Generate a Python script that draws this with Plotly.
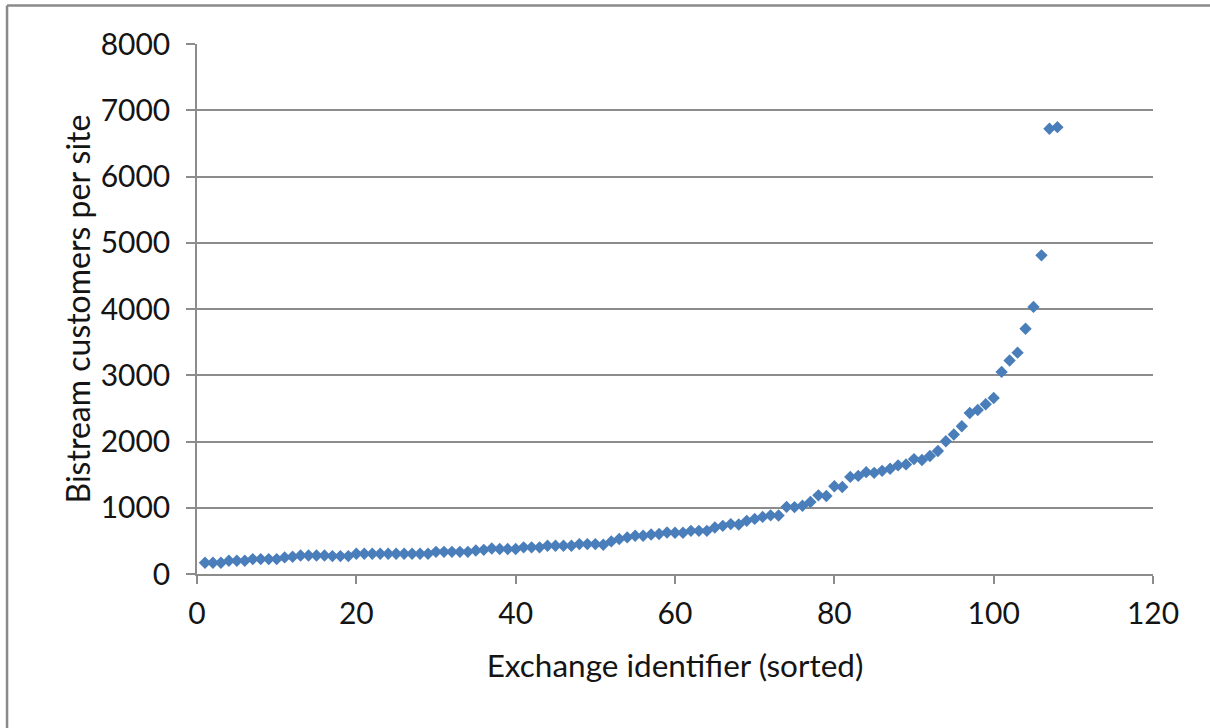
import plotly.graph_objects as go

exchange_id = list(range(1, 109))
customers_per_site = [
    170, 170, 170, 200, 200, 200, 225, 225, 225, 225,
    250, 260, 280, 280, 280, 280, 270, 270, 270, 305,
    305, 305, 305, 305, 305, 305, 305, 305, 305, 335,
    335, 335, 335, 335, 355, 365, 385, 377, 377, 377,
    402, 402, 402, 427, 427, 427, 427, 452, 452, 452,
    442, 492, 528, 552, 577, 577, 597, 603, 627, 622,
    622, 652, 652, 652, 702, 727, 753, 748, 802, 832,
    862, 885, 883, 1013, 1010, 1030, 1086, 1187, 1177, 1324,
    1314, 1466, 1481, 1537, 1527, 1557, 1588, 1639, 1654, 1735,
    1720, 1781, 1857, 2004, 2105, 2230, 2430, 2475, 2563, 2656,
    3050, 3222, 3341, 3702, 4032, 4810, 6720, 6745,
]

x_ticks = [0, 20, 40, 60, 80, 100, 120]
y_ticks = [0, 1000, 2000, 3000, 4000, 5000, 6000, 7000, 8000]

x_title = "Exchange identifier (sorted)"
y_title = "Bistream customers per site"

axis_grey = "#8c8c8c"
text_col = "#141414"
font_family = "Lato, 'Open Sans', sans-serif"

fig = go.Figure()
fig.add_trace(go.Scatter(
    x=exchange_id, y=customers_per_site, mode="markers",
    marker=dict(symbol="diamond", size=9.5, color="#4a7ebb",
                line=dict(width=0)),
    showlegend=False, cliponaxis=False,
))

fig.update_layout(
    width=1210, height=728,
    margin=dict(l=197, r=57, t=44, b=154),
    paper_bgcolor="white", plot_bgcolor="white",
    font=dict(family=font_family, color=text_col, size=30),
    xaxis=dict(
        range=[0, 120], tickvals=x_ticks, ticktext=[str(v) for v in x_ticks],
        showgrid=False, zeroline=False,
        showline=True, linecolor=axis_grey, linewidth=1.5,
        ticks="outside", ticklen=8, tickcolor=axis_grey, tickwidth=1.5,
        ticklabelstandoff=4,
        tickfont=dict(size=30, family=font_family, color=text_col),
        title=dict(text=x_title, font=dict(size=31.5, family=font_family, color=text_col), standoff=26),
    ),
    yaxis=dict(
        range=[0, 8000], tickvals=y_ticks, ticktext=[str(v) for v in y_ticks],
        showgrid=True, gridcolor=axis_grey, gridwidth=1.5, zeroline=False,
        showline=True, linecolor=axis_grey, linewidth=1.5,
        ticks="outside", ticklen=9, tickcolor=axis_grey, tickwidth=1.5,
        ticklabelstandoff=10,
        tickfont=dict(size=30, family=font_family, color=text_col),
        title=dict(text=y_title, font=dict(size=32, family=font_family, color=text_col), standoff=0),
    ),
    shapes=[
        dict(type="line", xref="paper", yref="paper",
             x0=-0.1987, x1=1.07, y0=1.0726, y1=1.0726,
             line=dict(color="#8a8a8a", width=2.5)),
        dict(type="line", xref="paper", yref="paper",
             x0=-0.1987, x1=-0.1987, y0=1.0726, y1=-0.30,
             line=dict(color="#8a8a8a", width=2.5)),
    ],
)

fig.write_html(
    "out.html",
    config={"displayModeBar": False},
    post_script="document.body.style.margin='0';document.body.style.overflow='hidden';",
)
